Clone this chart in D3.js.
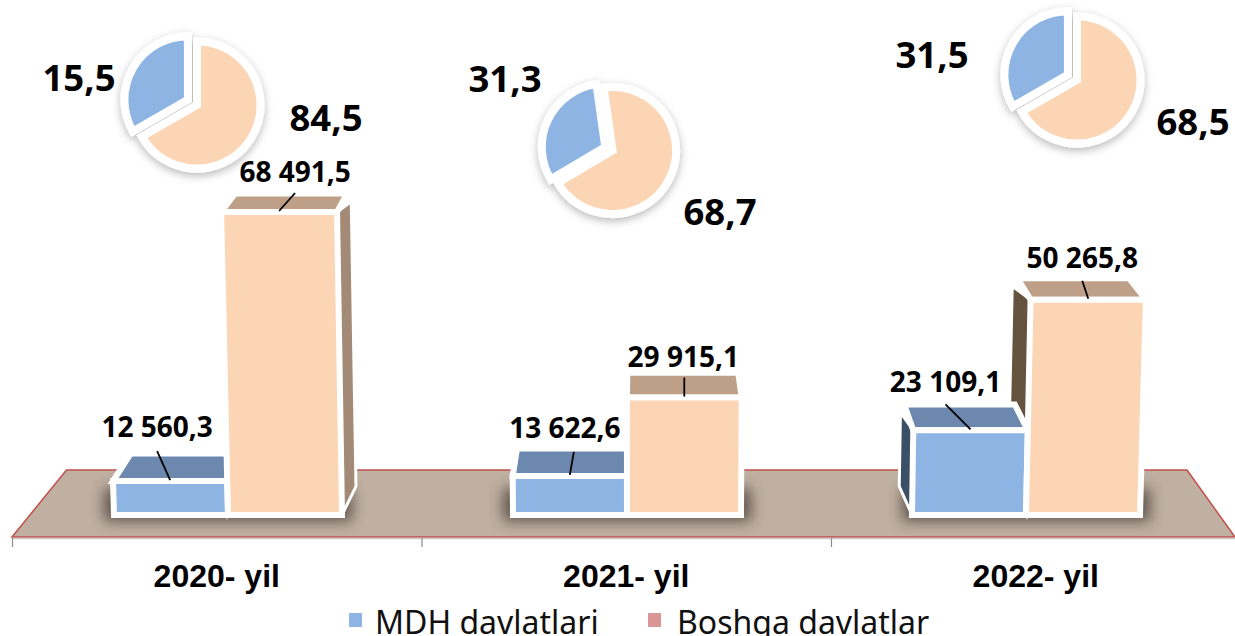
<!DOCTYPE html>
<html>
<head>
<meta charset="utf-8">
<script src="https://cdn.jsdelivr.net/npm/d3@7"></script>
<style>
    html, body { margin: 0; padding: 0; background: #fff; overflow: hidden; }
    svg { display: block; }
    .bar-label { font-family: "Noto Sans", sans-serif; font-weight: 700; font-size: 28px; text-anchor: middle; fill: #000; }
    .pie-label { font-family: "Noto Sans", sans-serif; font-weight: 700; font-size: 36.5px; text-anchor: middle; fill: #000; }
    .legend-label { font-family: "Noto Sans", sans-serif; font-size: 32px; fill: #111; }
</style>
</head>
<body>
<div id="chart"></div>
<script>
// chart data
var years = ["2020- yil", "2021- yil", "2022- yil"];
var seriesNames = ["MDH davlatlari", "Boshqa davlatlar"];
var mdhValues = [12560.3, 13622.6, 23109.1];
var otherValues = [68491.5, 29915.1, 50265.8];
var mdhShares = [15.5, 31.3, 31.5];
var otherShares = [84.5, 68.7, 68.5];
// the slices in the source are not all drawn to their labels, these are the drawn sizes
var drawnMdhShares = [33.3, 31.3, 33.3];

var width = 1235, height = 636;
var blue = "#8db4e3", peach = "#fcd5b5", legendPink = "#d99694";

// layout of things around the data
var floorFront = 537, floorBack = 470, baseY = 515;
var vanish = {x: 640, y: -340};  // where the bar depth runs to
var depth = 0.0335, lean = 0.000055;
var barLabelShift = [[[-13, -44], [16, -30]], [[-5, -38], [-1, -31]], [[-25, -38], [-6, -32]]];
var leaderTop = [[[-13, -30], [16, -19]], [[4, -24], [0, -20]], [[-25, -26], [-6, -19]]];
var pieCenters = [[197, 105], [612.5, 150.5], [1077, 80]];
var pieStart = [0, -8, 0];
var pieExplode = [10.5, 8, 10.5];
var pieLabelAt = [[[79, 91], [326, 131]], [[505, 92], [720, 225]], [[932, 68], [1193, 135]]];

var svg = d3.select("#chart").append("svg")
    .attr("width", width)
    .attr("height", height);

var defs = svg.append("defs");
defs.append("filter").attr("id", "blur")
    .attr("x", "-20%").attr("y", "-60%").attr("width", "140%").attr("height", "220%")
    .append("feGaussianBlur").attr("stdDeviation", 7);
defs.append("filter").attr("id", "pieShadow")
    .attr("x", "-20%").attr("y", "-20%").attr("width", "140%").attr("height", "140%")
    .append("feDropShadow").attr("dx", 0).attr("dy", 3).attr("stdDeviation", 4)
    .attr("flood-color", "#000").attr("flood-opacity", 0.28);

// scales
var xFront = d3.scaleBand().domain(years).range([12, 1240.5]);
var xBar = d3.scaleBand().domain(years).range([28.5, 1225.5]);
var xTicks = d3.scaleLinear().domain([0, 3]).range([12, 1240.5]);
var y = d3.scaleLinear().domain([5500, 68491.5]).range([baseY, 212]);
var barWidth = 114;

// floor
svg.append("polygon")
    .attr("points", [[12, floorFront], [66.5, floorBack], [1187, floorBack], [1235, floorFront]].join(" "))
    .attr("fill", "#bfb0a2")
    .attr("stroke", "#c0504d")
    .attr("stroke-width", 1.5);

svg.append("g")
    .attr("transform", "translate(0," + (floorFront + 1) + ")")
    .call(d3.axisBottom(xTicks).tickValues([0, 1, 2, 3]).tickFormat("").tickSize(9).tickSizeOuter(0))
    .call(function(g){
        g.select(".domain").attr("stroke", "#c9c9c9").attr("stroke-width", 1.5);
        g.selectAll("line").attr("stroke", "#8a8a8a").attr("stroke-width", 1.2);
    });

// category labels
svg.append("g")
    .attr("transform", "translate(0,587)")
    .call(d3.axisBottom(xFront).tickSize(0).tickPadding(0))
    .call(function(g){
        g.select(".domain").remove();
        g.selectAll("text")
            .attr("y", 0).attr("dy", 0)
            .attr("fill", "#000")
            .attr("font-family", "'Liberation Sans', sans-serif")
            .attr("font-weight", 700)
            .attr("font-size", 32);
    });

// a point on a bar: x along the front, h up from the floor
function lift(x, h){
    return [x + (x - vanish.x) * lean * h, baseY - h];
}
function back(p){
    return [p[0] + (vanish.x - p[0]) * depth, p[1] + (vanish.y - p[1]) * depth];
}
// side walls reach further out than the top and stop a bit under its back edge
function sideBack(p, isTop){
    var b = back(p);
    return [p[0] + (vanish.x - p[0]) * depth * 1.4, isTop ? b[1] + 8 : b[1]];
}

function barFaces(x0, x1, value){
    var h = baseY - y(value);
    var bl = lift(x0, 0), br = lift(x1, 0), tl = lift(x0, h), tr = lift(x1, h);
    return {
        front: [bl, tl, tr, br],
        top: [tl, back(tl), back(tr), tr],
        left: x0 > vanish.x ? [bl, tl, sideBack(tl, true), sideBack(bl)] : null,
        right: x1 < vanish.x ? [br, tr, sideBack(tr, true), sideBack(br)] : null,
        topMid: [(tl[0] + tr[0]) / 2, tl[1]]
    };
}

function face(pts, fill, strokeWidth){
    if(!pts) return;
    svg.append("polygon")
        .attr("points", pts.join(" "))
        .attr("fill", fill)
        .attr("stroke", "#fff")
        .attr("stroke-width", strokeWidth || 6)
        .attr("stroke-linejoin", "miter");
}

var fmt = d3.formatLocale({decimal: ",", thousands: " ", grouping: [3], currency: ["", ""]}).format(",.1f");

// shadows go first so that no bar of another year gets covered
years.forEach(function(year){
    var x = xBar(year) + xBar.bandwidth() / 2;
    svg.append("rect")
        .attr("x", x - barWidth - 10)
        .attr("y", y(6500) - 22)
        .attr("width", barWidth * 2 + 20)
        .attr("height", 33)
        .attr("fill", "#3d332c")
        .attr("opacity", 0.72)
        .attr("filter", "url(#blur)");
});

years.forEach(function(year, i){
    var mid = xBar(year) + xBar.bandwidth() / 2;
    var mdh = barFaces(mid - barWidth, mid, mdhValues[i]);
    var other = barFaces(mid, mid + barWidth, otherValues[i]);

    face(other.left, "#66533f", 3);
    face(other.right, "#a38a76", 3);
    face(other.top, "#bea088");
    face(mdh.left, "#3b4f66", 3);
    face(mdh.right, "#5a7396", 3);
    face(mdh.top, "#6c88ae");
    face(mdh.front, blue);
    face(other.front, peach);

    [[mdh, mdhValues[i]], [other, otherValues[i]]].forEach(function(d, s){
        var p = d[0].topMid;
        svg.append("line")
            .attr("x1", p[0]).attr("y1", p[1] - 1)
            .attr("x2", p[0] + leaderTop[i][s][0]).attr("y2", p[1] + leaderTop[i][s][1])
            .attr("stroke", "#000").attr("stroke-width", 1.8);
        svg.append("text")
            .attr("class", "bar-label")
            .attr("x", p[0] + barLabelShift[i][s][0])
            .attr("y", p[1] + barLabelShift[i][s][1])
            .text(fmt(d[1]));
    });
});

// pies
var arc = d3.arc().innerRadius(0).outerRadius(63.5);

years.forEach(function(year, i){
    var start = pieStart[i] * Math.PI / 180;
    var slices = d3.pie().sort(null).startAngle(start).endAngle(start + 2 * Math.PI)
        ([100 - drawnMdhShares[i], drawnMdhShares[i]]);

    var g = svg.append("g")
        .attr("transform", "translate(" + pieCenters[i] + ")")
        .attr("filter", "url(#pieShadow)");

    g.selectAll("path")
        .data(slices)
        .enter().append("path")
        .attr("d", arc)
        .attr("fill", function(d, s){ return s === 0 ? peach : blue; })
        .attr("stroke", "#fff")
        .attr("stroke-width", 8)
        .attr("transform", function(d, s){
            if(s === 0) return null;
            var a = (d.startAngle + d.endAngle) / 2;
            return "translate(" + (Math.sin(a) * pieExplode[i]) + "," + (-Math.cos(a) * pieExplode[i]) + ")";
        });

    [mdhShares[i], otherShares[i]].forEach(function(v, s){
        svg.append("text")
            .attr("class", "pie-label")
            .attr("x", pieLabelAt[i][s][0])
            .attr("y", pieLabelAt[i][s][1])
            .text(String(v).replace(".", ","));
    });
});

// legend, it runs off the bottom edge in the source too
var legendAt = [[349, 375], [648, 677]];
seriesNames.forEach(function(name, i){
    svg.append("rect")
        .attr("x", legendAt[i][0]).attr("y", 613)
        .attr("width", 13).attr("height", 14)
        .attr("fill", i === 0 ? blue : legendPink);
    svg.append("text")
        .attr("class", "legend-label")
        .attr("x", legendAt[i][1]).attr("y", 634)
        .text(name);
});
</script>
</body>
</html>
